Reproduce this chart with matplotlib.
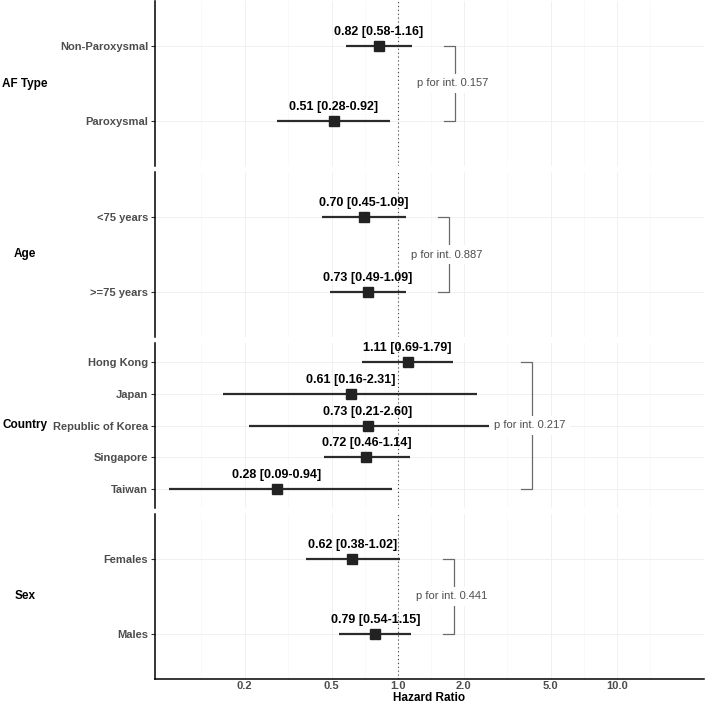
import matplotlib
matplotlib.use('Agg')
import matplotlib.pyplot as plt
import numpy as np

plt.rcParams['font.family'] = ['Liberation Sans', 'DejaVu Sans']

# data, top to bottom inside each panel
groups = ['AF Type', 'Age', 'Country', 'Sex']
subgroups = [
    ['Non-Paroxysmal', 'Paroxysmal'],
    ['<75 years', '>=75 years'],
    ['Hong Kong', 'Japan', 'Republic of Korea', 'Singapore', 'Taiwan'],
    ['Females', 'Males'],
]
hr = [[0.82, 0.51], [0.70, 0.73], [1.11, 0.61, 0.73, 0.72, 0.28], [0.62, 0.79]]
lower = [[0.58, 0.28], [0.45, 0.49], [0.69, 0.16, 0.21, 0.46, 0.09], [0.38, 0.54]]
upper = [[1.16, 0.92], [1.09, 1.09], [1.79, 2.31, 2.60, 1.14, 0.94], [1.02, 1.15]]
p_int = ['0.157', '0.887', '0.217', '0.441']

x_ticks = [0.2, 0.5, 1.0, 2.0, 5.0, 10.0]
x_tick_labels = ['0.2', '0.5', '1.0', '2.0', '5.0', '10.0']

W, H = 705, 707
fig = plt.figure(figsize=(W / 100, H / 100), dpi=100)
gs = fig.add_gridspec(4, 1, left=155 / W, right=704 / W, top=1 - 1 / H, bottom=1 - 679 / H,
                      hspace=6 / 165)

# minor grid at log midpoints (ggplot style)
lt = np.log10(x_ticks)
ext = np.concatenate([[lt[0] - (lt[1] - lt[0])], lt, [lt[-1] + (lt[-1] - lt[-2])]])
minor = 10 ** ((ext[:-1] + ext[1:]) / 2)

for i, g in enumerate(groups):
    ax = fig.add_subplot(gs[i, 0])
    n = len(subgroups[i])
    ys = np.arange(n)
    ax.set_xscale('log')
    ax.set_xlim(0.078, 25)
    ax.set_ylim(n - 1 + 0.6, -0.6)

    # grid
    for xv in minor:
        ax.axvline(xv, color='#f7f7f7', lw=0.5, zorder=0)
    for xv in x_ticks:
        ax.axvline(xv, color='#f0f0f0', lw=0.7, zorder=0)
    for yv in ys:
        ax.axhline(yv, color='#f0f0f0', lw=0.7, zorder=0)

    ax.axvline(1.0, color='#444444', lw=0.8, ls=(0, (1, 2.5)), zorder=1)

    ax.hlines(ys, lower[i], upper[i], color='#2b2b2b', lw=1.6, zorder=2)
    ax.plot(hr[i], ys, 's', color='#222222', ms=7.5, zorder=3)
    for y, h, lo, up in zip(ys, hr[i], lower[i], upper[i]):
        ax.annotate('%.2f [%.2f-%.2f]' % (h, lo, up), (h, y), xytext=(0, 10),
                    textcoords='offset points', ha='center', va='center',
                    fontsize=9, fontweight='bold', color='black', zorder=4)

    # interaction bracket
    xb = max(upper[i]) * 1.57
    xt = xb / 1.12
    ax.plot([xt, xb, xb, xt], [0, 0, n - 1, n - 1], color='#6a6a6a', lw=0.9, zorder=2)
    ax.text(xb / 1.02, (n - 1) / 2, 'p for int. ' + p_int[i], ha='center', va='center',
            fontsize=8, color='#4d4d4d', zorder=5,
            bbox=dict(facecolor='white', edgecolor='none', pad=3))

    ax.set_yticks(ys)
    ax.set_yticklabels(subgroups[i], fontsize=8, fontweight='bold', color='#4d4d4d')
    ax.tick_params(axis='y', length=3, width=0.8, color='#333333', pad=2)
    ax.set_xticks(x_ticks)
    ax.xaxis.set_minor_locator(matplotlib.ticker.NullLocator())
    ax.tick_params(axis='x', length=0)
    for s in ['top', 'right', 'bottom']:
        ax.spines[s].set_visible(False)
    ax.spines['left'].set_linewidth(1.1)

    if i == len(groups) - 1:
        ax.spines['bottom'].set_visible(True)
        ax.spines['bottom'].set_linewidth(1.1)
        ax.set_xticklabels(x_tick_labels, fontsize=8, fontweight='bold', color='#4d4d4d')
        ax.tick_params(axis='x', pad=1.5)
        ax.set_xlabel('Hazard Ratio', fontsize=8.5, fontweight='bold', labelpad=1)
    else:
        ax.set_xticklabels([])

    # strip label on the left
    pos = ax.get_position()
    fig.text(25 / W, (pos.y0 + pos.y1) / 2, g, ha='center', va='center',
             fontsize=8.5, fontweight='bold', color='black')

fig.savefig('out.png', dpi=100)
